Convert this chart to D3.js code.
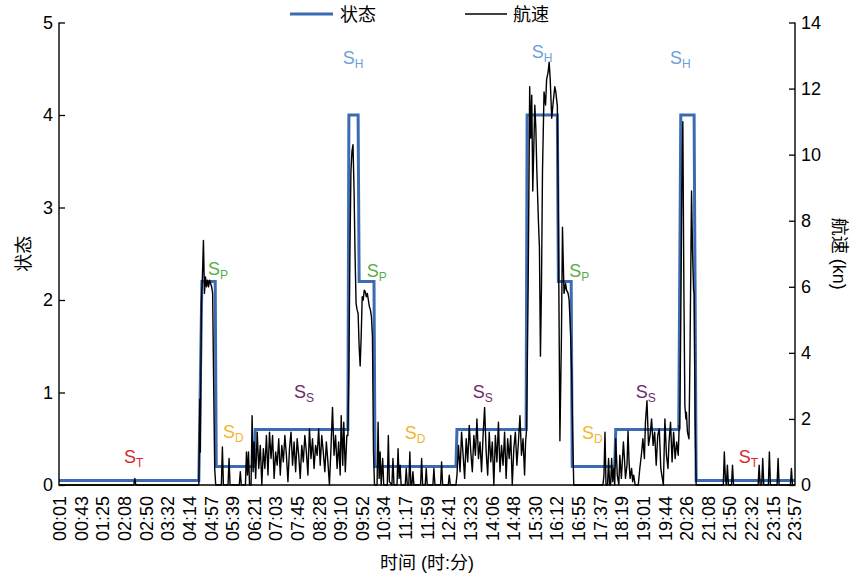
<!DOCTYPE html>
<html>
<head>
<meta charset="utf-8">
<script src="https://cdn.jsdelivr.net/npm/d3@7"></script>
<style>
  body { margin: 0; background: #fff; }
  text { font-family: "Liberation Sans", Arial, "Noto Sans CJK SC", sans-serif; }
</style>
</head>
<body>
<div id="chart"></div>
<script>
// time in minutes from 00:00
var timeLabels = ["00:01","00:43","01:25","02:08","02:50","03:32","04:14","04:57","05:39","06:21",
  "07:03","07:45","08:28","09:10","09:52","10:34","11:17","11:59","12:41","13:23","14:06","14:48",
  "15:30","16:12","16:55","17:37","18:19","19:01","19:44","20:26","21:08","21:50","22:32","23:15","23:57"];

var stateTicks = [0, 1, 2, 3, 4, 5];
var speedTicks = [0, 2, 4, 6, 8, 10, 12, 14];

// state step line
var stateTimes = [0, 273, 279, 305, 307, 381, 383, 564, 566, 584, 586, 615, 617, 775, 777, 912,
  914, 973, 975, 1000, 1002, 1085, 1087, 1210, 1214, 1240, 1244, 1437];
var stateValues = [0.05, 0.05, 2.2, 2.2, 0.2, 0.2, 0.6, 0.6, 4, 4, 2.2, 2.2, 0.2, 0.2, 0.6, 0.6,
  4, 4, 2.2, 2.2, 0.2, 0.2, 0.6, 0.6, 4, 4, 0.05, 0.05];

// speed (kn), [minute, value]
var speedMoored1 = [[0,0],[146,0],[148,0.2],[150,0],[273,0]];
var speedPort1 = [[275,2.6],[276,1.0],[278,5.5],[280,6.3],[282,7.4],[284,5.8],[286,6.3],[288,6.0],
  [290,6.2],[292,6.0],[294,6.2],[296,6.1],[298,6.0],[300,5.8],[302,3.0],[304,0.5],[306,0]];
var speedDrift1 = [[317,0],[319,1.15],[321,0],[330,0],[332,0.8],[334,0],[352,0],[354,0.4],[356,0],
  [364,0],[366,1.0],[368,0.3],[370,1.0],[372,0],[375,0],[377,2.1],[379,0.4]];
var speedSearch1 = [[381,1.3],[384,0.2],[387,1.6],[390,0.5],[393,1.2],[396,0.0],[399,1.1],[402,0.5],
  [405,1.5],[408,0.3],[411,1.6],[414,0.8],[417,1.5],[420,0.2],[423,1.0],[426,0.6],[429,1.4],[432,0.3],
  [435,1.2],[438,0.7],[441,1.5],[444,0.9],[447,0.1],[450,1.1],[453,1.6],[456,0.6],[459,1.3],[462,0.4],
  [465,1.4],[468,0.9],[471,0.2],[474,1.2],[477,0.7],[480,1.5],[483,1.0],[486,0.3],[489,1.7],[492,0.8],
  [495,1.4],[498,0.5],[501,1.2],[504,0.9],[507,1.7],[510,0.6],[513,1.5],[516,1.0],[519,0.4],[522,1.3],
  [525,0.7],[528,0.0],[531,1.1],[534,2.35],[537,0.9],[540,1.5],[543,0.5],[546,1.3],[549,0.3],[551,2.1],
  [554,0.6],[556,1.9],[559,0.4],[562,1.5]];
var speedHaul1 = [[564,1.5],[566,3.5],[568,7.0],[570,9.5],[572,10.1],[574,10.3],[576,9.0],[578,7.0],
  [580,5.5],[582,5.3],[584,5.2],[586,4.2],[588,3.6],[590,4.5],[592,5.7],[594,5.6],[596,5.9],[598,5.85],
  [600,5.7],[602,5.8],[604,5.6],[606,5.4],[608,5.3],[610,5.1],[612,4.5],[614,1.0],[616,0]];
var speedDrift2 = [[621,0],[623,1.9],[625,0.2],[627,1.0],[629,0],[632,0.8],[634,0],[641,0],[643,1.5],
  [645,0.1],[650,0],[652,0.8],[654,0],[660,0],[662,1.1],[664,0.2],[666,0.6],[668,0],[676,0],[678,0.5],
  [680,0],[683,0],[685,1.0],[687,0],[689,0],[691,0.4],[693,0],[706,0],[708,0.8],[710,0],[715,0],
  [717,0.5],[719,0],[730,0],[732,0.5],[734,0],[745,0],[747,0.7],[749,0],[760,0],[762,0.3],[764,0],[775,0]];
var speedSearch2 = [[777,0.3],[780,1.2],[783,0.4],[786,1.6],[789,0.9],[792,0.2],[795,1.4],[798,0.7],
  [801,1.8],[804,1.0],[807,0.4],[810,1.5],[813,0.9],[816,2.0],[819,0.8],[822,1.3],[825,0.4],[828,1.5],
  [831,2.35],[834,1.0],[837,0.3],[840,1.6],[843,0.7],[846,1.3],[849,0.0],[852,1.5],[855,0.7],[858,1.9],
  [861,0.4],[864,1.2],[867,0.6],[870,1.6],[873,0.2],[876,1.4],[879,0.8],[882,1.5],[885,0.0],[888,1.1],
  [891,1.6],[894,0.6],[897,1.3],[900,2.1],[903,0.9],[906,1.4],[909,0.3],[911,1.3]];
var speedHaul2 = [[913,1.7],[916,6.0],[919,12.06],[921,10.5],[923,11.8],[925,8.9],[927,10.2],[929,11.5],
  [931,10.8],[933,9.5],[936,8.0],[938,7.2],[940,3.9],[942,6.0],[944,9.5],[947,11.9],[950,11.5],
  [952,12.27],[955,12.5],[957,12.8],[959,12.3],[962,11.1],[965,11.6],[968,12.06],[970,11.9],[973,11.46],
  [975,8.0],[978,1.34],[981,4.5],[983,7.8],[986,5.8],[989,6.1],[991,5.9],[994,5.8],[996,5.6],[999,4.5],
  [1001,3.4],[1003,1.5],[1005,0]];
var speedDrift3 = [[1062,0],[1064,0.3],[1066,1.6],[1068,0],[1071,0],[1073,0.8],[1075,0],[1077,0],
  [1079,0.8],[1081,0.1],[1083,0.5],[1085,0]];
var speedSearch3 = [[1087,1.4],[1090,0.3],[1093,0],[1095,0.9],[1098,0.2],[1102,1.3],[1104,0.8],
  [1106,0.2],[1109,0.6],[1111,1.63],[1113,0.7],[1115,0.2],[1118,0.5],[1120,0.1],[1122,0.3],[1125,0],
  [1131,0],[1134,0.5],[1137,0.9],[1140,1.4],[1143,0.8],[1145,1.9],[1148,2.55],[1151,1.2],[1154,1.5],
  [1157,2.0],[1160,1.2],[1163,1.6],[1166,0.6],[1169,1.5],[1172,1.7],[1175,0.5],[1177,0.3],[1180,0],
  [1183,2.0],[1186,0.9],[1189,0.5],[1191,1.3],[1194,1.9],[1197,0.7],[1200,1.6],[1203,0.8],[1206,1.3],
  [1209,0.9],[1211,1.8]];
var speedHaul3 = [[1212,1.7],[1214,5.0],[1216,9.0],[1218,11.0],[1220,6.0],[1222,2.4],[1224,2.0],
  [1225,2.2],[1227,1.6],[1230,1.4],[1232,4.0],[1235,8.9],[1237,7.0],[1239,5.9],[1240,5.8],[1242,2.0],[1244,0]];
var speedMoored2 = [[1297,0],[1299,1.0],[1301,0.2],[1303,0],[1305,0.6],[1307,0],[1313,0],[1315,0.6],
  [1317,0],[1365,0],[1367,0.6],[1369,0],[1372,0],[1374,0.8],[1376,0],[1385,0],[1387,1.0],[1389,0],
  [1402,0],[1404,0.8],[1406,0],[1428,0],[1430,0.5],[1432,0],[1437,0]];

// state annotations: name, subscript, minute, state value
var labelNames = ["T","D","P","S","H","P","D","S","H","P","D","S","H","T"];
var labelTimes = [127, 320, 291, 459, 554, 601, 675, 808, 923, 996, 1021, 1126, 1193, 1327];
var labelLevels = [0.24, 0.51, 2.27, 0.94, 4.55, 2.25, 0.5, 0.94, 4.62, 2.25, 0.5, 0.94, 4.55, 0.24];
var labelColors = { T: "#d9272e", D: "#f2b531", P: "#5aac48", S: "#6c2a6c", H: "#6c9fd8" };

var width = 851, height = 576;
var plotLeft = 59, plotRight = 795, plotTop = 22.5, plotBottom = 485;

var svg = d3.select("#chart").append("svg")
  .attr("width", width)
  .attr("height", height);

var x = d3.scaleLinear().domain([0, 1437]).range([plotLeft, plotRight]);
var yState = d3.scaleLinear().domain([0, 5]).range([plotBottom, plotTop]);
var ySpeed = d3.scaleLinear().domain([0, 14]).range([plotBottom, plotTop]);

function toMinutes(s) {
  var p = s.split(":");
  return parseInt(p[0]) * 60 + parseInt(p[1]);
}

// state line
var stateData = stateTimes.map(function (t, i) { return [t, stateValues[i]]; });
svg.append("path")
  .datum(stateData)
  .attr("fill", "none")
  .attr("stroke", "#3d6bb3")
  .attr("stroke-width", 3)
  .attr("d", d3.line().x(function (d) { return x(d[0]); }).y(function (d) { return yState(d[1]); }));

// speed line
var speedData = [].concat(speedMoored1, speedPort1, speedDrift1, speedSearch1, speedHaul1, speedDrift2,
  speedSearch2, speedHaul2, speedDrift3, speedSearch3, speedHaul3, speedMoored2);
svg.append("path")
  .datum(speedData)
  .attr("fill", "none")
  .attr("stroke", "#000")
  .attr("stroke-width", 1.4)
  .attr("stroke-linejoin", "round")
  .attr("d", d3.line().x(function (d) { return x(d[0]); }).y(function (d) { return ySpeed(d[1]); }));

// axes
svg.append("g")
  .attr("transform", "translate(" + plotLeft + ",0)")
  .call(d3.axisRight(yState).tickValues(stateTicks).tickSize(6).tickFormat(""));
svg.append("g")
  .attr("transform", "translate(" + plotRight + ",0)")
  .call(d3.axisLeft(ySpeed).tickValues(speedTicks).tickSize(6).tickFormat(""));
svg.selectAll(".domain").remove();
svg.selectAll(".tick line").attr("stroke", "#000").attr("stroke-width", 1.3);

svg.append("path")
  .attr("d", "M" + plotLeft + "," + plotTop + "V" + plotBottom + "H" + plotRight + "V" + plotTop)
  .attr("fill", "none")
  .attr("stroke", "#000")
  .attr("stroke-width", 1.4);

svg.selectAll(".ltick").data(stateTicks).enter().append("text")
  .attr("x", plotLeft - 6)
  .attr("y", function (d) { return yState(d); })
  .attr("dy", "0.36em")
  .attr("text-anchor", "end")
  .style("font-size", "18px")
  .text(function (d) { return d; });

svg.selectAll(".rtick").data(speedTicks).enter().append("text")
  .attr("x", plotRight + 6)
  .attr("y", function (d) { return ySpeed(d); })
  .attr("dy", "0.36em")
  .style("font-size", "18px")
  .text(function (d) { return d; });

svg.selectAll(".xtick").data(timeLabels).enter().append("text")
  .attr("transform", function (d) { return "translate(" + x(toMinutes(d)) + "," + (plotBottom + 11) + ") rotate(-90)"; })
  .attr("dy", "0.36em")
  .attr("text-anchor", "end")
  .style("font-size", "18px")
  .text(function (d) { return d; });

// axis titles
svg.append("text")
  .attr("transform", "translate(24," + ((plotTop + plotBottom) / 2) + ") rotate(-90)")
  .attr("text-anchor", "middle")
  .attr("dy", "0.35em")
  .style("font-size", "18px")
  .text("状态");

svg.append("text")
  .attr("transform", "translate(839," + ((plotTop + plotBottom) / 2) + ") rotate(90)")
  .attr("text-anchor", "middle")
  .attr("dy", "0.35em")
  .style("font-size", "18px")
  .text("航速 (kn)");

svg.append("text")
  .attr("x", (plotLeft + plotRight) / 2)
  .attr("y", 569)
  .attr("text-anchor", "middle")
  .style("font-size", "18px")
  .text("时间 (时:分)");

// state annotations
var ann = svg.selectAll(".ann").data(labelNames).enter().append("text")
  .attr("x", function (d, i) { return x(labelTimes[i]); })
  .attr("y", function (d, i) { return yState(labelLevels[i]); })
  .style("font-size", "18px")
  .attr("fill", function (d) { return labelColors[d]; });
ann.append("tspan").text("S");
ann.append("tspan")
  .attr("dy", 4)
  .style("font-size", "12px")
  .text(function (d) { return d; });

// legend
svg.append("line")
  .attr("x1", 290).attr("x2", 333).attr("y1", 14).attr("y2", 14)
  .attr("stroke", "#3d6bb3").attr("stroke-width", 3);
svg.append("text")
  .attr("x", 340).attr("y", 21)
  .style("font-size", "18px")
  .text("状态");
svg.append("line")
  .attr("x1", 465).attr("x2", 507).attr("y1", 14).attr("y2", 14)
  .attr("stroke", "#000").attr("stroke-width", 1.5);
svg.append("text")
  .attr("x", 513).attr("y", 21)
  .style("font-size", "18px")
  .text("航速");
</script>
</body>
</html>
